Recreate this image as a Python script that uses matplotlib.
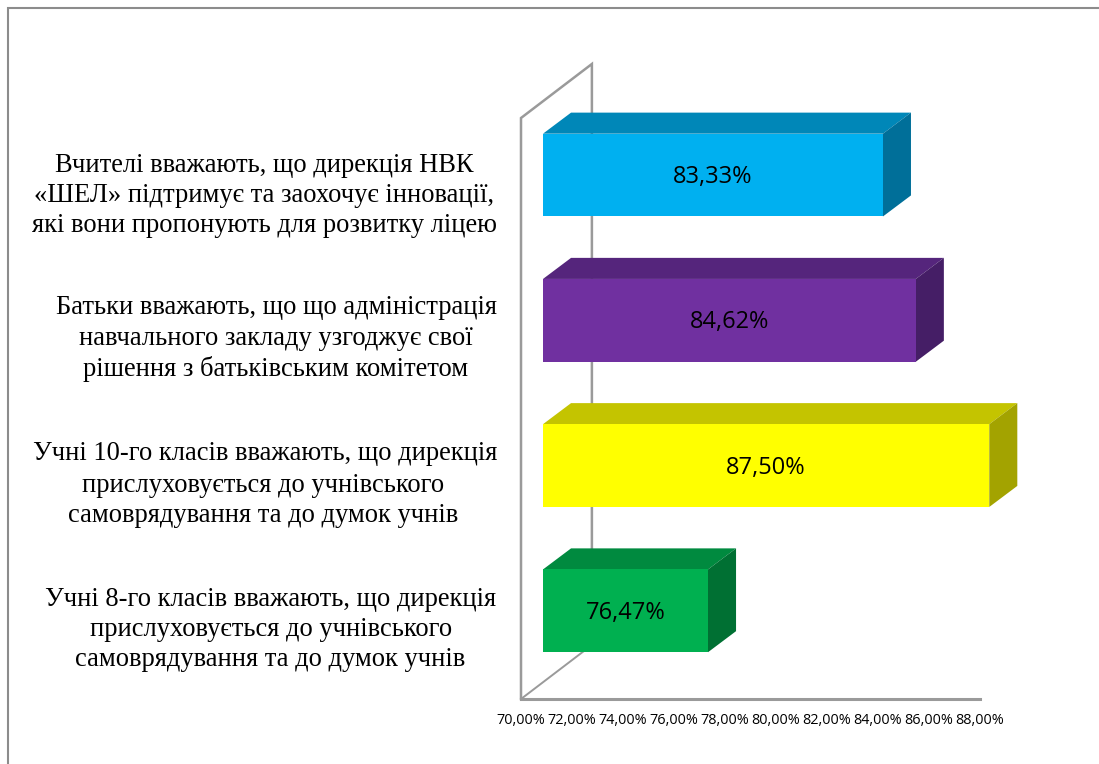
import matplotlib
matplotlib.use('Agg')
import matplotlib.pyplot as plt
from matplotlib.lines import Line2D
from matplotlib.patches import Polygon

W, H = 1099, 764

# Data, bottom to top
values = [76.47, 87.50, 84.62, 83.33]
value_labels = ['76,47%', '87,50%', '84,62%', '83,33%']
front_colors = ['#00B050', '#FFFF00', '#7030A0', '#00B0F0']
top_colors = ['#008A3F', '#C4C400', '#55257C', '#0087B8']
side_colors = ['#007033', '#A3A300', '#451E66', '#006F99']
x_ticks = [70, 72, 74, 76, 78, 80, 82, 84, 86, 88]
x_tick_labels = ['70,00%', '72,00%', '74,00%', '76,00%', '78,00%',
                 '80,00%', '82,00%', '84,00%', '86,00%', '88,00%']

# Category text, one line at a time: (text, centre x px, y px)
category_lines = [
    ('Вчителі вважають, що дирекція НВК', 264, 165),
    ('«ШЕЛ» підтримує та заохочує інновації,', 264, 195),
    ('які вони пропонують для розвитку ліцею', 264, 225),
    ('Батьки вважають, що що адміністрація', 276, 308),
    ('навчального закладу узгоджує свої', 276, 339),
    ('рішення з батьківським комітетом', 276, 369),
    ('Учні 10-го класів вважають, що дирекція', 265, 454),
    ('прислуховується до учнівського', 263, 485),
    ('самоврядування та до думок учнів', 263, 515),
    ('Учні 8-го класів вважають, що дирекція', 271, 599),
    ('прислуховується до учнівського', 271, 630),
    ('самоврядування та до думок учнів', 270, 660),
]

GREY = '#9A9A9A'

fig = plt.figure(figsize=(W / 100, H / 100), dpi=100, facecolor='white')
ax = fig.add_axes([521 / W, (H - 699) / H, 459 / W, 581 / H])
ax.set_xlim(70, 88)
ax.set_ylim(0, 4)
ax.axis('off')
ax.patch.set_visible(False)

# 3D depth, in data units
wall_dx, wall_dy = 2.78, 0.372
bar_shift = 0.863
bar_dx, bar_dy = 1.1, 0.145
bar_h = 0.57
bar_pos = 0.607

# Wall and floor lines
ax.plot([70, 70, 70 + wall_dx, 70 + wall_dx], [0, 4, 4 + wall_dy, wall_dy],
        color=GREY, lw=1.8, clip_on=False, zorder=1, solid_joinstyle='miter')
ax.plot([70, 70 + wall_dx], [0, wall_dy], color=GREY, lw=1.4, clip_on=False, zorder=1)
ax.plot([70, 88], [0, 0], color=GREY, lw=2.2, clip_on=False, zorder=1)

for i, v in enumerate(values):
    y0 = i + bar_pos - bar_h / 2
    y1 = y0 + bar_h
    x0 = 70 + bar_shift
    x1 = v + bar_shift
    ax.barh(i + bar_pos, v - 70, height=bar_h, left=x0, color=front_colors[i], zorder=3, clip_on=False)
    ax.add_patch(Polygon([(x0, y1), (x0 + bar_dx, y1 + bar_dy), (x1 + bar_dx, y1 + bar_dy), (x1, y1)],
                         closed=True, facecolor=top_colors[i], edgecolor='none', zorder=2, clip_on=False))
    ax.add_patch(Polygon([(x1, y0), (x1 + bar_dx, y0 + bar_dy), (x1 + bar_dx, y1 + bar_dy), (x1, y1)],
                         closed=True, facecolor=side_colors[i], edgecolor='none', zorder=2, clip_on=False))
    ax.annotate(value_labels[i], ((x0 + x1) / 2, i + bar_pos), xytext=(0, -2), textcoords='offset pixels',
                ha='center', va='center', fontsize=17, family='Open Sans', color='black',
                zorder=4, annotation_clip=False)

for t, lab in zip(x_ticks, x_tick_labels):
    ax.annotate(lab, (t, 0), xytext=(0, -21), textcoords='offset pixels', ha='center', va='center',
                fontsize=10.4, family='Open Sans', color='black', annotation_clip=False)

for txt, cx, cy in category_lines:
    fig.text(cx / W, 1 - cy / H, txt, ha='center', va='center',
             fontsize=19.1, family='Liberation Serif', color='black')

# Outer chart border, top and left only in view
fig.add_artist(Line2D([8 / W, 8 / W, 1], [0, 1 - 8 / H, 1 - 8 / H],
                      color='#8C8C8C', lw=1.5, solid_joinstyle='miter'))

fig.savefig('out.png', dpi=100)
